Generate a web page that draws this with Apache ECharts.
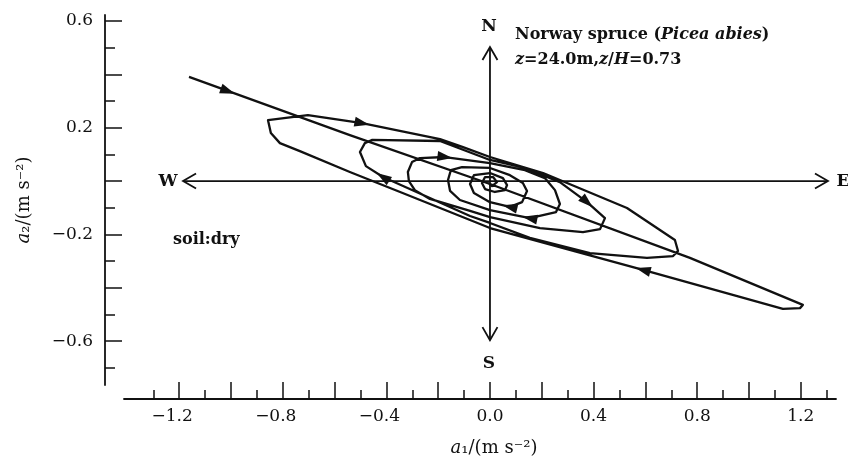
<!DOCTYPE html>
<html><head><meta charset="utf-8">
<script src="https://cdn.jsdelivr.net/npm/echarts@6/dist/echarts.min.js"></script>
<style>html,body{margin:0;padding:0;background:#fff}#c{width:848px;height:467px}</style>
</head><body><div id="c"></div>
<script>
// ---- data (a1, a2 in m s^-2) ----
const swing1 = [[-1.162,0.390],[-0.541,0.172],[0.000,-0.011],[0.772,-0.288],[1.208,-0.464]];
const return1 = [[1.197,-0.476],[1.131,-0.479],[0.965,-0.434],[0.591,-0.333],[0.000,-0.176],[-0.347,-0.041],[-0.541,0.034],[-0.734,0.112],[-0.811,0.142],[-0.846,0.180],[-0.857,0.228]];
const swing2 = [[-0.703,0.247],[-0.494,0.217],[-0.193,0.157],[-0.104,0.127],[0.000,0.090],[0.205,0.030],[0.529,-0.101],[0.714,-0.221],[0.726,-0.262]];
const return2 = [[0.707,-0.281],[0.606,-0.288],[0.386,-0.270],[0.154,-0.213],[0.000,-0.157],[-0.077,-0.131],[-0.413,0.015],[-0.479,0.056],[-0.502,0.109]];
const swing3 = [[-0.483,0.142],[-0.456,0.154],[-0.193,0.150],[0.000,0.079],[0.135,0.049],[0.270,-0.004],[0.375,-0.079],[0.444,-0.139]];
const return3 = [[0.425,-0.180],[0.359,-0.191],[0.193,-0.176],[0.000,-0.135],[-0.077,-0.112],[-0.232,-0.067],[-0.290,-0.034],[-0.313,0.000],[-0.317,0.034]];
const swing4 = [[-0.301,0.071],[-0.270,0.086],[-0.174,0.090],[0.000,0.067],[0.135,0.041],[0.212,0.011],[0.251,-0.034],[0.270,-0.086]];
const return4 = [[0.255,-0.116],[0.154,-0.139],[0.000,-0.109],[-0.116,-0.071],[-0.154,-0.037],[-0.162,0.004]];
const swing5 = [[-0.151,0.041],[-0.108,0.052],[0.000,0.049],[0.077,0.022],[0.127,-0.007],[0.143,-0.037]];
const return5 = [[0.124,-0.079],[0.077,-0.097],[0.000,-0.079],[-0.062,-0.045],[-0.077,-0.011]];
const swing6 = [[-0.062,0.022],[0.000,0.030],[0.050,0.011],[0.066,-0.015]];
const return6 = [[0.058,-0.034],[0.019,-0.041],[-0.019,-0.030],[-0.031,-0.007]];
const swing7 = [[-0.019,0.015],[0.012,0.015],[0.027,-0.004],[0.008,-0.019],[-0.008,-0.007]];

// direction arrows: [x, y, towardX, towardY]
const arrows = [
  [-1.012,0.337,-0.541,0.172],
  [0.591,-0.333,0.000,-0.176],
  [-0.494,0.217,-0.193,0.157],
  [-0.413,0.015,-0.479,0.056],
  [-0.174,0.090,0.000,0.067],
  [0.375,-0.079,0.444,-0.139],
  [0.154,-0.139,0.000,-0.109],
  [0.077,-0.097,0.000,-0.079]
];
// compass axes W-E and S-N: [x1,y1,x2,y2]
const compass = [[-1.185,0,1.305,0],[0,-0.596,0,0.502]];

const xMajorTicks = [-1.2,-1.0,-0.8,-0.6,-0.4,-0.2,0,0.2,0.4,0.6,0.8,1.0,1.2];
const xMinorTicks = [-1.3,-1.1,-0.9,-0.7,-0.5,-0.3,-0.1,0.1,0.3,0.5,0.7,0.9,1.1,1.3];
const xLabelValues = [-1.2,-0.8,-0.4,0,0.4,0.8,1.2];
const yMajorTicks = [-0.6,-0.4,-0.2,0,0.2,0.4,0.6];
const yMinorTicks = [-0.7,-0.5,-0.3,-0.1,0.1,0.3,0.5];
const yLabelValues = [-0.6,-0.2,0.2,0.6];

const trajectory = [].concat(swing1, return1, swing2, return2, swing3, return3, swing4, return4, swing5, return5, swing6, return6, swing7);

const FF = 'DejaVu Serif';
const INK = '#111';
const fmt = v => (Math.abs(v) < 1e-9 ? '0.0' : v.toFixed(1)).replace('-', '\u2212');

const chart = echarts.init(document.getElementById('c'), null, {renderer: 'canvas'});
const XMIN = -1.413, XMAX = 1.336, YMIN = -0.764, YMAX = 0.622;

chart.setOption({
  animation: false,
  backgroundColor: '#fff',
  grid: {left: 124, right: 12, top: 15, bottom: 82},
  xAxis: [{
    type: 'value', min: XMIN, max: XMAX, position: 'bottom', offset: 14,
    axisLine: {show: true, onZero: false, lineStyle: {color: INK, width: 1.8}},
    axisTick: {show: true, inside: true, length: 17, customValues: xMajorTicks, lineStyle: {color: INK, width: 1.5}},
    axisLabel: {customValues: xLabelValues, margin: 9, color: INK, fontFamily: FF, fontSize: 17,
      formatter: v => v < 0 ? '{n|' + fmt(v) + '}' : fmt(v),
      rich: {n: {padding: [0, 14, 0, 0], fontFamily: FF, fontSize: 17, color: INK}}},
    splitLine: {show: false},
    name: '{i|a}{n|\u2081/(m s\u207b\u00b2)}', nameLocation: 'middle', nameGap: 40,
    nameTextStyle: {color: INK, fontFamily: FF, fontSize: 18, padding: [0, 0, 0, 28],
      rich: {i: {fontStyle: 'italic', fontFamily: FF, fontSize: 18, color: INK}, n: {fontFamily: FF, fontSize: 18, color: INK}}}
  }, {
    type: 'value', min: XMIN, max: XMAX, position: 'bottom', offset: 14,
    axisLine: {show: false, onZero: false},
    axisTick: {show: true, inside: true, length: 9, customValues: xMinorTicks, lineStyle: {color: INK, width: 1.5}},
    axisLabel: {show: false}, splitLine: {show: false}
  }],
  yAxis: [{
    type: 'value', min: YMIN, max: YMAX, position: 'left', offset: 19,
    axisLine: {show: true, onZero: false, lineStyle: {color: INK, width: 1.8}},
    axisTick: {show: true, inside: true, length: 17, customValues: yMajorTicks, lineStyle: {color: INK, width: 1.5}},
    axisLabel: {customValues: yLabelValues, margin: 12, color: INK, fontFamily: FF, fontSize: 17, formatter: fmt},
    splitLine: {show: false},
    name: '{i|a}{n|\u2082/(m s\u207b\u00b2)}', nameLocation: 'middle', nameGap: 72,
    nameTextStyle: {color: INK, fontFamily: FF, fontSize: 18,
      rich: {i: {fontStyle: 'italic', fontFamily: FF, fontSize: 18, color: INK}, n: {fontFamily: FF, fontSize: 18, color: INK}}}
  }, {
    type: 'value', min: YMIN, max: YMAX, position: 'left', offset: 19,
    axisLine: {show: false, onZero: false},
    axisTick: {show: true, inside: true, length: 10, customValues: yMinorTicks, lineStyle: {color: INK, width: 1.5}},
    axisLabel: {show: false}, splitLine: {show: false}
  }],
  series: [{
    type: 'custom', name: 'compass', xAxisIndex: 0, yAxisIndex: 0, silent: true, clip: false,
    data: compass, encode: {x: [0, 2], y: [1, 3]},
    renderItem: (params, api) => {
      const a = api.coord([api.value(0), api.value(1)]);
      const b = api.coord([api.value(2), api.value(3)]);
      let dx = b[0] - a[0], dy = b[1] - a[1];
      const L = Math.hypot(dx, dy); dx /= L; dy /= L;
      const nx = -dy, ny = dx, hl = 13, hw = 7.5;
      const head = (p, sx, sy) => [[p[0] - sx * hl + nx * hw, p[1] - sy * hl + ny * hw], [p[0], p[1]], [p[0] - sx * hl - nx * hw, p[1] - sy * hl - ny * hw]];
      const st = {stroke: INK, lineWidth: 1.8, fill: null};
      return {type: 'group', children: [
        {type: 'line', shape: {x1: a[0], y1: a[1], x2: b[0], y2: b[1]}, style: st},
        {type: 'polyline', shape: {points: head(b, dx, dy)}, style: st},
        {type: 'polyline', shape: {points: head(a, -dx, -dy)}, style: st}
      ]};
    }
  }, {
    type: 'line', name: 'trajectory', data: trajectory, showSymbol: false, symbol: 'none', smooth: false,
    lineStyle: {color: INK, width: 2.3, join: 'round'}, silent: true, clip: false
  }, {
    type: 'custom', name: 'arrows', silent: true, clip: false,
    data: arrows, encode: {x: [0, 2], y: [1, 3]},
    renderItem: (params, api) => {
      const c = api.coord([api.value(0), api.value(1)]);
      const n = api.coord([api.value(2), api.value(3)]);
      let dx = n[0] - c[0], dy = n[1] - c[1];
      const L = Math.hypot(dx, dy); dx /= L; dy /= L;
      const px = -dy, py = dx, len = 15, w = 5;
      const tip = [c[0] + dx * len / 2, c[1] + dy * len / 2];
      const b1 = [c[0] - dx * len / 2 + px * w, c[1] - dy * len / 2 + py * w];
      const b2 = [c[0] - dx * len / 2 - px * w, c[1] - dy * len / 2 - py * w];
      return {type: 'polygon', shape: {points: [tip, b1, b2]}, style: {fill: INK}};
    }
  }],
  graphic: [
    {type: 'text', x: 489, y: 27, style: {text: 'N', font: 'bold 17px "DejaVu Serif"', fill: INK, align: 'center', verticalAlign: 'middle'}},
    {type: 'text', x: 489, y: 364, style: {text: 'S', font: 'bold 17px "DejaVu Serif"', fill: INK, align: 'center', verticalAlign: 'middle'}},
    {type: 'text', x: 168, y: 182, style: {text: 'W', font: 'bold 17px "DejaVu Serif"', fill: INK, align: 'center', verticalAlign: 'middle'}},
    {type: 'text', x: 843, y: 182, style: {text: 'E', font: 'bold 17px "DejaVu Serif"', fill: INK, align: 'center', verticalAlign: 'middle'}},
    {type: 'text', x: 515, y: 35, style: {text: '{b|Norway spruce (}{bi|Picea abies}{b|)}', fill: INK, align: 'left', verticalAlign: 'middle',
      rich: {b: {fontFamily: FF, fontWeight: 'bold', fontSize: 16, fill: INK}, bi: {fontFamily: FF, fontWeight: 'bold', fontStyle: 'italic', fontSize: 16, fill: INK}}}},
    {type: 'text', x: 515, y: 60, style: {text: '{bi|z}{b|=24.0m,}{bi|z}{b|/}{bi|H}{b|=0.73}', fill: INK, align: 'left', verticalAlign: 'middle',
      rich: {b: {fontFamily: FF, fontWeight: 'bold', fontSize: 16, fill: INK}, bi: {fontFamily: FF, fontWeight: 'bold', fontStyle: 'italic', fontSize: 16, fill: INK}}}},
    {type: 'text', x: 173, y: 240, style: {text: 'soil:dry', font: 'bold 16px "DejaVu Serif"', fill: INK, align: 'left', verticalAlign: 'middle'}}
  ]
});
</script></body></html>
